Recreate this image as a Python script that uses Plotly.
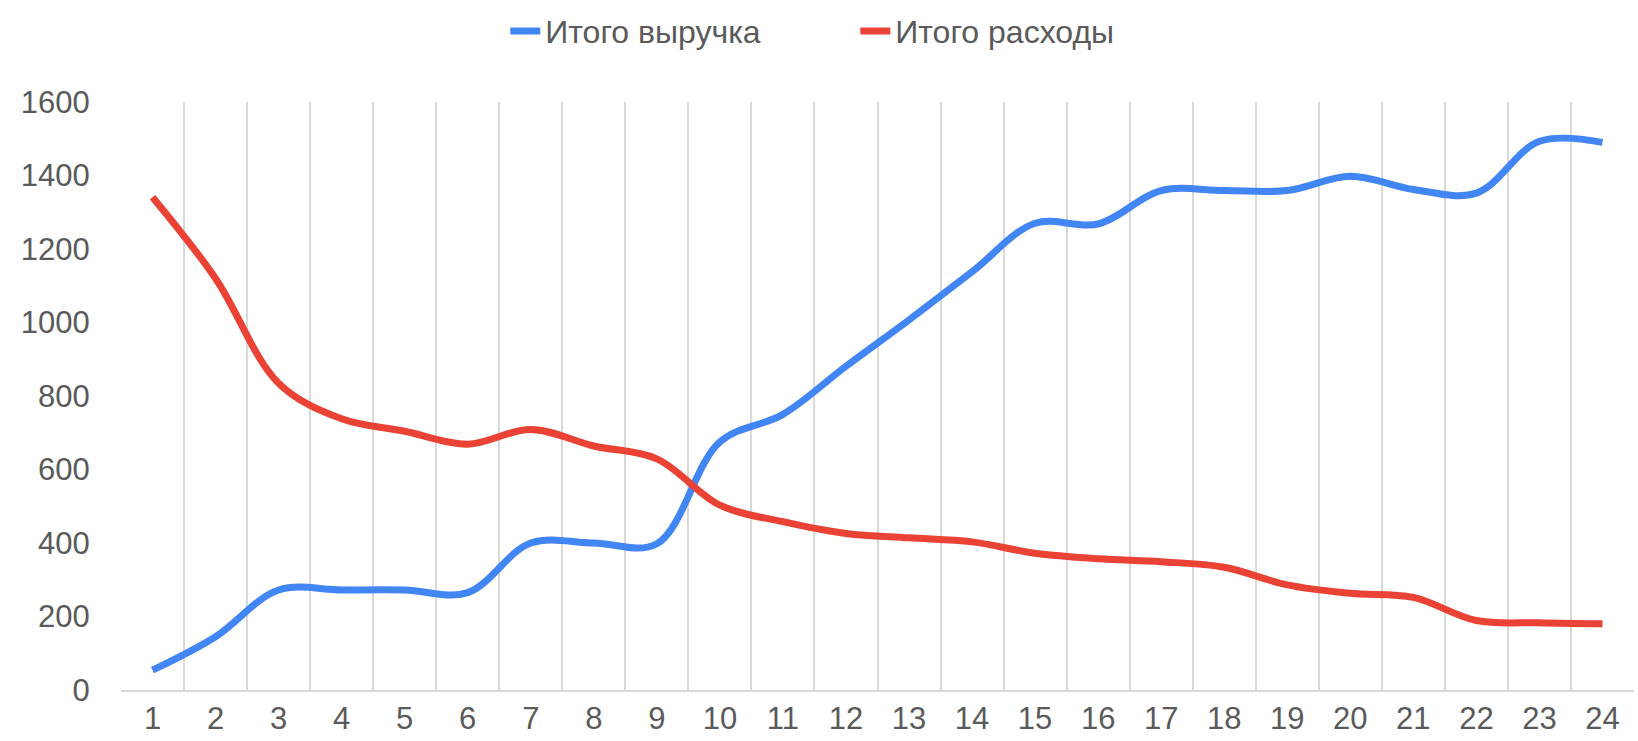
import plotly.graph_objects as go

categories = [str(i) for i in range(1, 25)]
revenue = [54, 145, 272, 272, 272, 265, 400, 400, 398, 675, 750, 881,
           1007, 1138, 1270, 1268, 1359, 1359, 1359, 1398, 1362, 1352, 1493, 1490]
expenses = [1341, 1120, 835, 738, 704, 669, 709, 664, 629, 503, 458, 426,
            414, 403, 372, 357, 349, 334, 286, 263, 252, 189, 183, 180]

series_names = ["Итого выручка", "Итого расходы"]
colors = ["#4285F4", "#EA4335"]

fig = go.Figure()
for name, vals, col in zip(series_names, [revenue, expenses], colors):
    fig.add_trace(go.Scatter(
        x=categories, y=vals, name=name, mode="lines",
        line=dict(color=col, width=7, shape="spline", smoothing=1.0),
    ))

font_family = "Liberation Sans, Arial, sans-serif"
fig.update_layout(
    width=1638, height=741,
    margin=dict(l=121, r=4, t=102, b=51),
    paper_bgcolor="white", plot_bgcolor="white",
    font=dict(family=font_family, size=31, color="#5a5a5a"),
    legend=dict(orientation="h", x=0.254, xanchor="left", y=0.995, yanchor="top",
                yref="container", font=dict(size=32, color="#5a5a5a"),
                entrywidth=305, entrywidthmode="pixels"),
    showlegend=True,
)
fig.update_xaxes(
    type="category", tickson="boundaries", range=[-0.5, 23.5],
    showgrid=True, gridcolor="#d9d9d9",
    gridwidth=2, showline=True, linecolor="#d9d9d9", linewidth=2,
    ticks="outside", ticklen=12, tickcolor="rgba(0,0,0,0)",
    tickfont=dict(size=31, color="#5a5a5a"), zeroline=False,
)
fig.update_yaxes(
    range=[0, 1600], dtick=200, showgrid=False, zeroline=False,
    ticks="outside", ticklen=24, tickcolor="rgba(0,0,0,0)",
    tickfont=dict(size=31, color="#5a5a5a"),
)

fig.write_html("out.html", config={"displayModeBar": False},
               post_script="document.body.style.margin='0';")
